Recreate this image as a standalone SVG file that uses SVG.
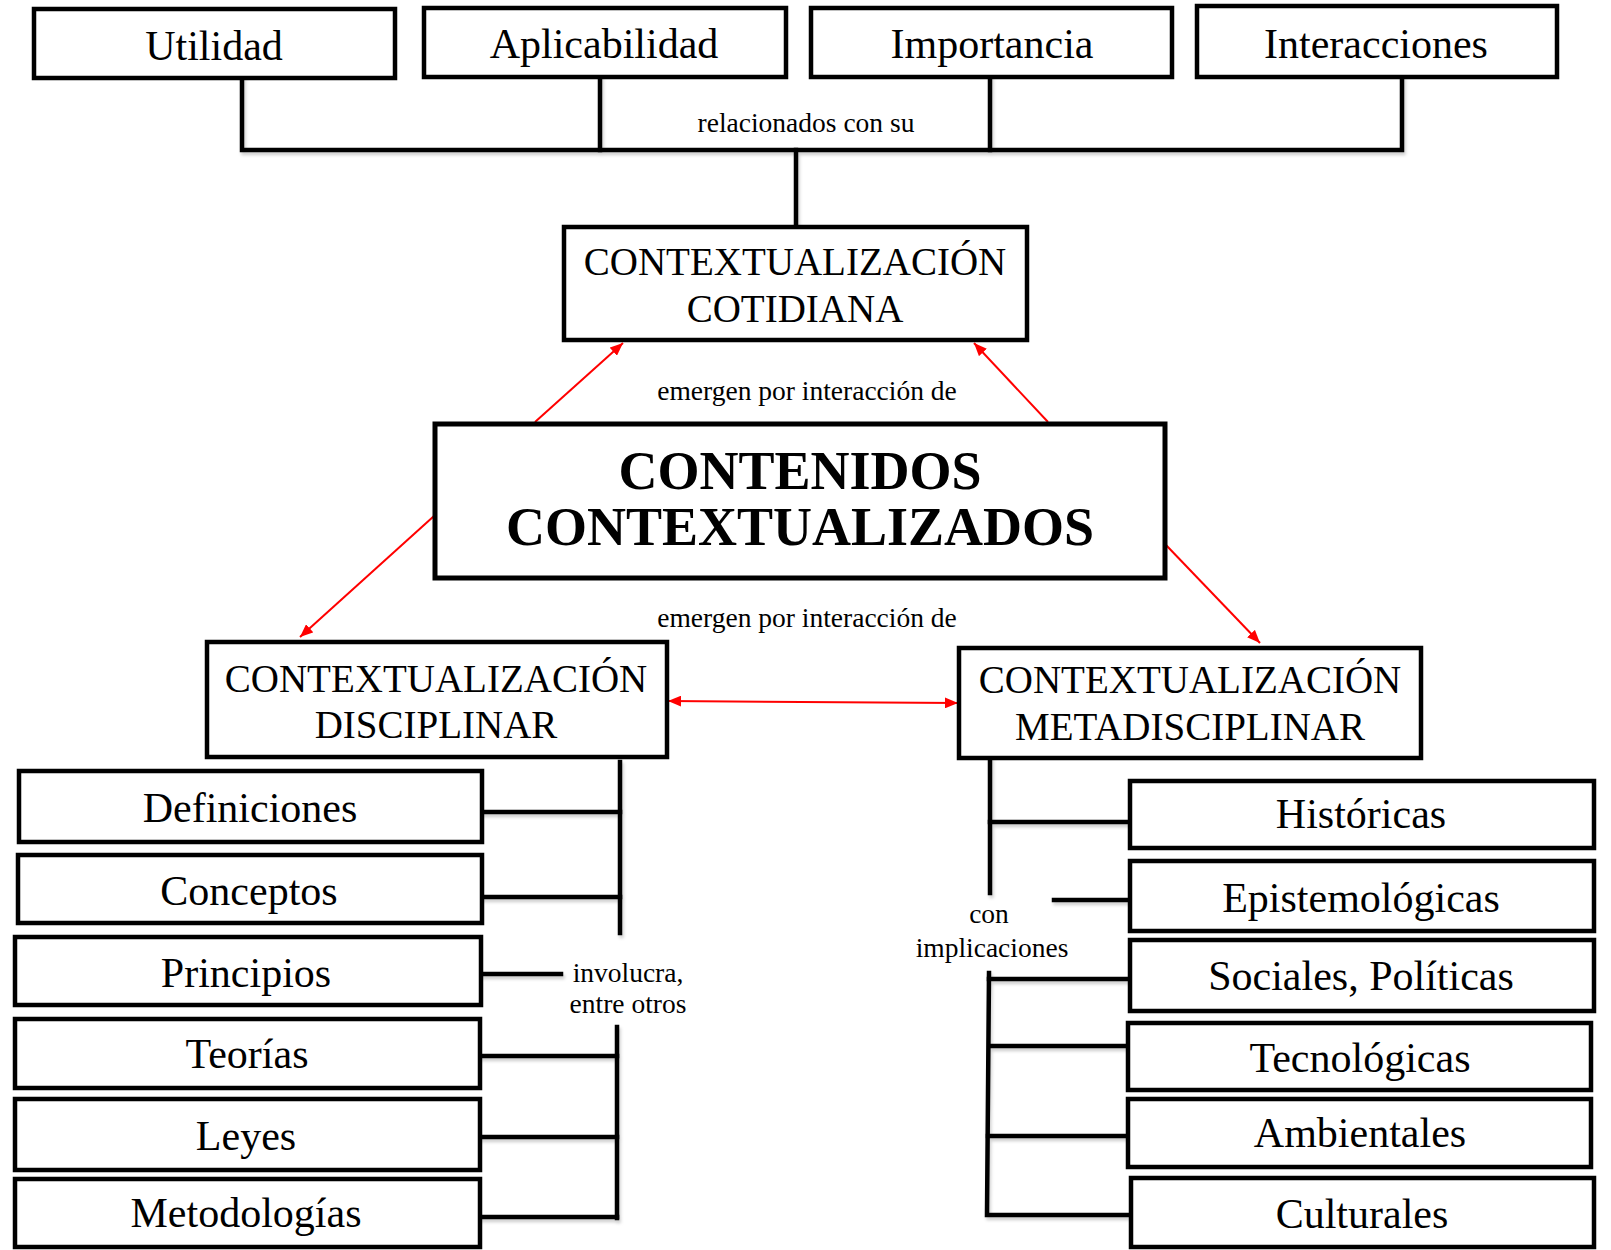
<svg xmlns="http://www.w3.org/2000/svg" width="1611" height="1250" viewBox="0 0 1611 1250">
<style>
  .box { fill: #ffffff; stroke: #000000; stroke-width: 4.5; }
  .main { fill: #ffffff; stroke: #000000; stroke-width: 5; }
  .lbl { font-family: "Liberation Serif", "Times New Roman", serif; fill: #000000; text-anchor: middle; }
  .item { font-size: 42px; }
  .ctx { font-size: 39px; }
  .big { font-size: 54px; font-weight: bold; }
  .small { font-size: 27.5px; }
  .conn { fill: none; stroke: #000000; stroke-width: 4.5; stroke-linecap: square; }
  .red { fill: none; stroke: #ff0000; stroke-width: 2; }
</style>
<defs>
  <marker id="ah" viewBox="0 0 12 10" markerUnits="userSpaceOnUse" markerWidth="13" markerHeight="11" refX="12" refY="5" orient="auto-start-reverse">
    <path d="M0,0 L12,5 L0,10 z" fill="#ff0000"/>
  </marker>
  <filter id="sh" x="-5%" y="-5%" width="110%" height="130%">
    <feDropShadow dx="1.5" dy="3" stdDeviation="1.5" flood-color="#000" flood-opacity="0.18"/>
  </filter>
</defs>
<rect x="0" y="0" width="1611" height="1250" fill="#ffffff"/>

<g id="connectors">
  <g filter="url(#sh)">
    <path class="conn" d="M242,78 V150 H1402 V77"/>
    <path class="conn" d="M600,77 V150"/>
    <path class="conn" d="M990,77 V150"/>
    <path class="conn" d="M796,150 V227"/>
    <path class="conn" d="M620,762 V933"/>
    <path class="conn" d="M482,812 H620"/>
    <path class="conn" d="M482,897 H620"/>
    <path class="conn" d="M481,974 H561"/>
    <path class="conn" d="M617,1027 V1218"/>
    <path class="conn" d="M480,1056 H617"/>
    <path class="conn" d="M480,1137 H617"/>
    <path class="conn" d="M480,1217 H617"/>
    <path class="conn" d="M990,758 V893"/>
    <path class="conn" d="M990,822 H1130"/>
    <path class="conn" d="M1054,900 H1130"/>
    <path class="conn" d="M989,973 L987,1215 H1131"/>
    <path class="conn" d="M989,979 H1130"/>
    <path class="conn" d="M990,1046 H1131"/>
    <path class="conn" d="M988,1136 H1128"/>
  </g>
  <line class="red" x1="535" y1="422" x2="623" y2="343" marker-end="url(#ah)"/>
  <line class="red" x1="1048" y1="422" x2="974" y2="343" marker-end="url(#ah)"/>
  <line class="red" x1="434" y1="516" x2="300" y2="637" marker-end="url(#ah)"/>
  <line class="red" x1="1166" y1="545" x2="1260" y2="643" marker-end="url(#ah)"/>
  <line class="red" x1="668" y1="701" x2="958" y2="703" marker-start="url(#ah)" marker-end="url(#ah)"/>
  <text class="lbl small" x="806" y="132">relacionados con su</text>
  <text class="lbl small" x="807" y="400">emergen por interacción de</text>
  <text class="lbl small" x="807" y="627">emergen por interacción de</text>
  <text class="lbl small" x="628" y="982">involucra,</text>
  <text class="lbl small" x="628" y="1013">entre otros</text>
  <text class="lbl small" x="989" y="923">con</text>
  <text class="lbl small" x="992" y="957">implicaciones</text>
</g>

<g id="utilidad"><rect class="box" x="34" y="9" width="361" height="69"/><text class="lbl item" x="214" y="60">Utilidad</text></g>
<g id="aplicabilidad"><rect class="box" x="424" y="8" width="362" height="69"/><text class="lbl item" x="604" y="58">Aplicabilidad</text></g>
<g id="importancia"><rect class="box" x="811" y="8" width="361" height="69"/><text class="lbl item" x="992" y="58">Importancia</text></g>
<g id="interacciones"><rect class="box" x="1197" y="6" width="360" height="71"/><text class="lbl item" x="1376" y="58">Interacciones</text></g>

<g id="cotidiana"><rect class="box" x="564" y="227" width="463" height="113"/>
  <text class="lbl ctx" x="795" y="275">CONTEXTUALIZACIÓN</text>
  <text class="lbl ctx" x="795" y="322">COTIDIANA</text></g>

<g id="contenidos"><rect class="main" x="435" y="424" width="730" height="154"/>
  <text class="lbl big" x="800" y="489">CONTENIDOS</text>
  <text class="lbl big" x="800" y="545">CONTEXTUALIZADOS</text></g>

<g id="disciplinar"><rect class="box" x="207" y="642" width="460" height="115"/>
  <text class="lbl ctx" x="436" y="692">CONTEXTUALIZACIÓN</text>
  <text class="lbl ctx" x="436" y="738">DISCIPLINAR</text></g>

<g id="metadisciplinar"><rect class="box" x="959" y="648" width="462" height="110"/>
  <text class="lbl ctx" x="1190" y="693">CONTEXTUALIZACIÓN</text>
  <text class="lbl ctx" x="1190" y="740">METADISCIPLINAR</text></g>

<g id="definiciones"><rect class="box" x="19" y="771" width="463" height="71"/><text class="lbl item" x="250" y="822">Definiciones</text></g>
<g id="conceptos"><rect class="box" x="18" y="855" width="464" height="68"/><text class="lbl item" x="249" y="905">Conceptos</text></g>
<g id="principios"><rect class="box" x="15" y="937" width="466" height="68"/><text class="lbl item" x="246" y="987">Principios</text></g>
<g id="teorias"><rect class="box" x="15" y="1019" width="465" height="69"/><text class="lbl item" x="247" y="1068">Teorías</text></g>
<g id="leyes"><rect class="box" x="15" y="1099" width="465" height="71"/><text class="lbl item" x="246" y="1150">Leyes</text></g>
<g id="metodologias"><rect class="box" x="15" y="1179" width="465" height="68"/><text class="lbl item" x="246" y="1227">Metodologías</text></g>

<g id="historicas"><rect class="box" x="1130" y="781" width="464" height="67"/><text class="lbl item" x="1361" y="828">Históricas</text></g>
<g id="epistemologicas"><rect class="box" x="1130" y="861" width="464" height="70"/><text class="lbl item" x="1361" y="912">Epistemológicas</text></g>
<g id="sociales"><rect class="box" x="1130" y="940" width="464" height="71"/><text class="lbl item" x="1361" y="990">Sociales, Políticas</text></g>
<g id="tecnologicas"><rect class="box" x="1128" y="1023" width="463" height="67"/><text class="lbl item" x="1360" y="1072">Tecnológicas</text></g>
<g id="ambientales"><rect class="box" x="1128" y="1099" width="463" height="68"/><text class="lbl item" x="1360" y="1147">Ambientales</text></g>
<g id="culturales"><rect class="box" x="1131" y="1178" width="463" height="69"/><text class="lbl item" x="1362" y="1228">Culturales</text></g>
</svg>
